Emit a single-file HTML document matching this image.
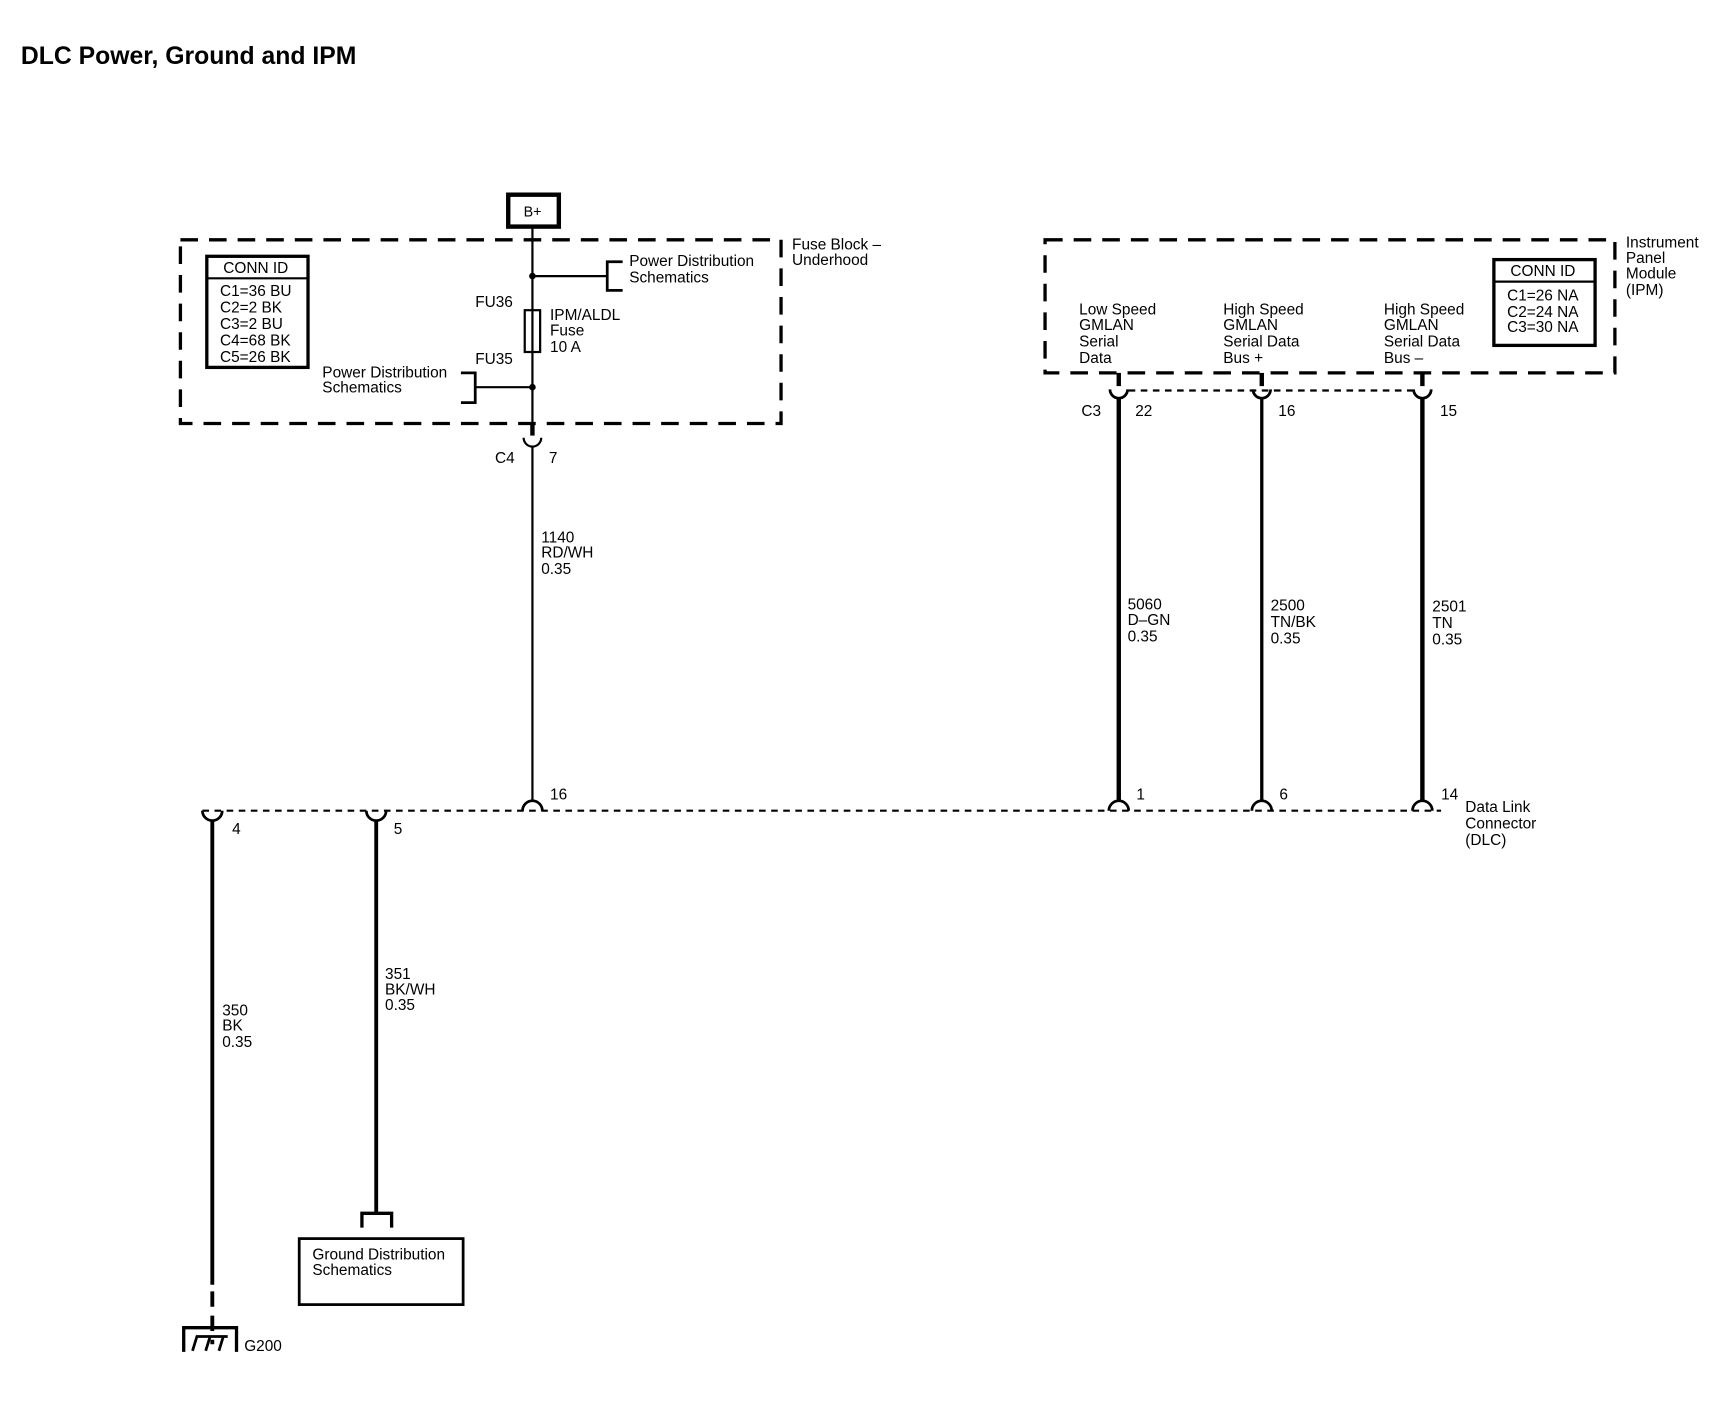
<!DOCTYPE html>
<html><head><style>
html,body{margin:0;padding:0;background:#fff;}
svg{display:block;}
text{font-family:"Liberation Sans",sans-serif;font-size:14px;fill:#000;}
</style></head><body>
<svg width="1726" height="1408" viewBox="0 0 1569 1280" preserveAspectRatio="none" xmlns="http://www.w3.org/2000/svg">
<text x="19" y="58" style="font-size:22.5px;font-weight:bold">DLC Power, Ground and IPM</text>

<!-- B+ -->
<rect x="462" y="177" width="46" height="29" fill="none" stroke="#000" stroke-width="4"/>
<text x="476" y="197" style="font-size:13px">B+</text>

<!-- Fuse block -->
<rect x="164" y="218" width="546" height="167" fill="none" stroke="#000" stroke-width="3" stroke-dasharray="16,10"/>
<text x="720" y="227">Fuse Block –</text>
<text x="720" y="241">Underhood</text>
<rect x="188" y="233" width="92" height="101" fill="none" stroke="#000" stroke-width="3"/>
<line x1="188" y1="253" x2="280" y2="253" stroke="#000" stroke-width="2"/>
<text x="203" y="248">CONN ID</text>
<text x="200" y="269">C1=36 BU</text>
<text x="200" y="284">C2=2 BK</text>
<text x="200" y="299">C3=2 BU</text>
<text x="200" y="314">C4=68 BK</text>
<text x="200" y="329">C5=26 BK</text>

<line x1="484" y1="207" x2="484" y2="395" stroke="#000" stroke-width="2"/>
<circle cx="484" cy="251" r="3"/>
<line x1="484" y1="251" x2="552" y2="251" stroke="#000" stroke-width="2"/>
<path d="M566 238 H552 V264 H566" fill="none" stroke="#000" stroke-width="2.5"/>
<text x="572" y="242">Power Distribution</text>
<text x="572" y="257">Schematics</text>
<text x="432" y="279">FU36</text>
<rect x="477" y="282" width="14" height="38" fill="#fff" stroke="#000" stroke-width="2"/>
<line x1="484" y1="282" x2="484" y2="320" stroke="#000" stroke-width="2"/>
<text x="500" y="291">IPM/ALDL</text>
<text x="500" y="305">Fuse</text>
<text x="500" y="320">10 A</text>
<text x="432" y="331">FU35</text>
<circle cx="484" cy="352" r="3"/>
<line x1="432" y1="352" x2="484" y2="352" stroke="#000" stroke-width="2"/>
<path d="M419 339 H432 V366 H419" fill="none" stroke="#000" stroke-width="2.5"/>
<text x="293" y="343">Power Distribution</text>
<text x="293" y="357">Schematics</text>

<!-- C4 connector -->
<line x1="484" y1="385" x2="484" y2="396" stroke="#000" stroke-width="4"/>
<path d="M476 398 A8 8 0 0 0 492 398" fill="none" stroke="#000" stroke-width="2"/>
<line x1="484" y1="406" x2="484" y2="728" stroke="#000" stroke-width="2"/>
<text x="450" y="421">C4</text>
<text x="499" y="421">7</text>
<text x="492" y="493">1140</text>
<text x="492" y="507">RD/WH</text>
<text x="492" y="522">0.35</text>

<!-- DLC line -->
<line x1="184" y1="737" x2="1310" y2="737" stroke="#000" stroke-width="2" stroke-dasharray="6,5"/>
<path d="M475 737 A9 9 0 0 1 493 737" fill="none" stroke="#000" stroke-width="2.5"/>
<path d="M1008 737 A9 9 0 0 1 1026 737" fill="none" stroke="#000" stroke-width="2.5"/>
<path d="M1138 737 A9 9 0 0 1 1156 737" fill="none" stroke="#000" stroke-width="2.5"/>
<path d="M1284 737 A9 9 0 0 1 1302 737" fill="none" stroke="#000" stroke-width="2.5"/>
<path d="M184 737 A9 9 0 0 0 202 737" fill="none" stroke="#000" stroke-width="2.5"/>
<path d="M333 737 A9 9 0 0 0 351 737" fill="none" stroke="#000" stroke-width="2.5"/>
<text x="500" y="727">16</text>
<text x="1033" y="727">1</text>
<text x="1163" y="727">6</text>
<text x="1310" y="727">14</text>
<text x="211" y="758">4</text>
<text x="358" y="758">5</text>
<text x="1332" y="738">Data Link</text>
<text x="1332" y="753">Connector</text>
<text x="1332" y="768">(DLC)</text>

<!-- ground wire -->
<line x1="193" y1="746" x2="193" y2="1168" stroke="#000" stroke-width="3.5"/>
<line x1="193" y1="1174" x2="193" y2="1222" stroke="#000" stroke-width="3.5" stroke-dasharray="14,8"/>
<path d="M167 1229 V1207 H215 V1229" fill="none" stroke="#000" stroke-width="3"/>
<path d="M175 1228 L179 1215 M187 1228 L191 1215 M199 1228 L203 1215 M178 1215 H207" fill="none" stroke="#000" stroke-width="2.5"/>
<text x="222" y="1228">G200</text>
<text x="202" y="923">350</text>
<text x="202" y="937">BK</text>
<text x="202" y="952">0.35</text>

<line x1="342" y1="746" x2="342" y2="1103" stroke="#000" stroke-width="3.5"/>
<path d="M329 1116 V1103 H356 V1116" fill="none" stroke="#000" stroke-width="3"/>
<rect x="272" y="1126" width="149" height="60" fill="none" stroke="#000" stroke-width="2.5"/>
<text x="284" y="1145">Ground Distribution</text>
<text x="284" y="1159">Schematics</text>
<text x="350" y="890">351</text>
<text x="350" y="904">BK/WH</text>
<text x="350" y="918">0.35</text>

<!-- IPM -->
<rect x="950" y="218" width="518" height="121" fill="none" stroke="#000" stroke-width="3" stroke-dasharray="16,10"/>
<text x="1478" y="225">Instrument</text>
<text x="1478" y="239">Panel</text>
<text x="1478" y="253">Module</text>
<text x="1478" y="268">(IPM)</text>
<rect x="1358" y="236" width="92" height="78" fill="none" stroke="#000" stroke-width="3"/>
<line x1="1358" y1="256" x2="1450" y2="256" stroke="#000" stroke-width="2"/>
<text x="1373" y="251">CONN ID</text>
<text x="1370" y="273">C1=26 NA</text>
<text x="1370" y="288">C2=24 NA</text>
<text x="1370" y="302">C3=30 NA</text>

<text x="981" y="286">Low Speed</text>
<text x="981" y="300">GMLAN</text>
<text x="981" y="315">Serial</text>
<text x="981" y="330">Data</text>
<text x="1112" y="286">High Speed</text>
<text x="1112" y="300">GMLAN</text>
<text x="1112" y="315">Serial Data</text>
<text x="1112" y="330">Bus +</text>
<text x="1258" y="286">High Speed</text>
<text x="1258" y="300">GMLAN</text>
<text x="1258" y="315">Serial Data</text>
<text x="1258" y="330">Bus –</text>

<line x1="1026" y1="355" x2="1284" y2="355" stroke="#000" stroke-width="2" stroke-dasharray="6,5"/>
<g stroke="#000" fill="none">
<line x1="1017" y1="339" x2="1017" y2="351" stroke-width="4"/>
<path d="M1009 354 A8 8 0 0 0 1025 354" stroke-width="2.5"/>
<line x1="1017" y1="362" x2="1017" y2="728" stroke-width="4"/>
<line x1="1147" y1="339" x2="1147" y2="351" stroke-width="4"/>
<path d="M1139 354 A8 8 0 0 0 1155 354" stroke-width="2.5"/>
<line x1="1147" y1="362" x2="1147" y2="728" stroke-width="3"/>
<line x1="1293" y1="339" x2="1293" y2="351" stroke-width="4"/>
<path d="M1285 354 A8 8 0 0 0 1301 354" stroke-width="2.5"/>
<line x1="1293" y1="362" x2="1293" y2="728" stroke-width="4"/>
</g>
<text x="983" y="378">C3</text>
<text x="1032" y="378">22</text>
<text x="1162" y="378">16</text>
<text x="1309" y="378">15</text>
<text x="1025" y="554">5060</text>
<text x="1025" y="568">D–GN</text>
<text x="1025" y="583">0.35</text>
<text x="1155" y="555">2500</text>
<text x="1155" y="570">TN/BK</text>
<text x="1155" y="585">0.35</text>
<text x="1302" y="556">2501</text>
<text x="1302" y="571">TN</text>
<text x="1302" y="586">0.35</text>
</svg>
</body></html>
